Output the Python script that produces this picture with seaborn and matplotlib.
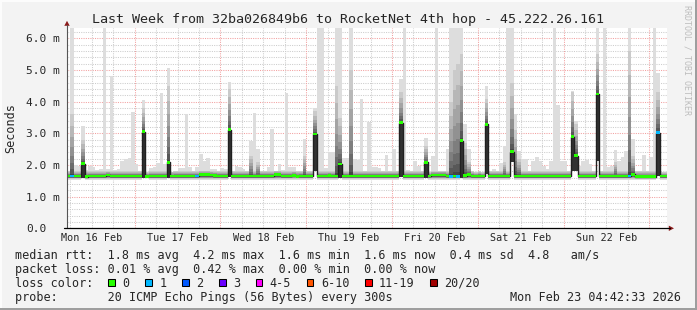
import numpy as np
import pandas as pd
import matplotlib
matplotlib.use("Agg")
import matplotlib.pyplot as plt
import matplotlib.transforms as mtransforms
from matplotlib.patches import Rectangle, Polygon
from matplotlib.lines import Line2D
import seaborn as sns

# ---------------- data ----------------
# hourly bins; hour index = hours since Mon 16 Feb 00:00
first_bin = 5
x_start, x_end = 5.06, 173.06

day_labels = ["Mon 16 Feb", "Tue 17 Feb", "Wed 18 Feb", "Thu 19 Feb",
              "Fri 20 Feb", "Sat 21 Feb", "Sun 22 Feb"]
day_label_hours = [12, 36, 60, 84, 108, 132, 156]
y_ticks = [0, 1, 2, 3, 4, 5, 6]
y_tick_labels = ["0.0", "1.0 m", "2.0 m", "3.0 m", "4.0 m", "5.0 m", "6.0 m"]

# median rtt per hourly bin (ms)
median_ms = (
    [1.65, 1.65, 1.65, 1.65, 2.04, 1.63, 1.65, 1.65, 1.65, 1.65, 1.65, 1.68,
     1.65, 1.65, 1.65, 1.65, 1.65, 1.65, 1.65] +
    [1.65, 1.65, 3.05, 1.64, 1.65, 1.65, 1.65, 1.65, 1.65, 2.08, 1.65, 1.65,
     1.65, 1.65, 1.65, 1.65, 1.65, 1.65, 1.69, 1.69, 1.69, 1.68, 1.66, 1.65] +
    [1.65, 1.65, 3.12, 1.65, 1.65, 1.65, 1.65, 1.65, 1.65, 1.65, 1.65, 1.65,
     1.65, 1.65, 1.65, 1.69, 1.69, 1.65, 1.65, 1.65, 1.67, 1.64, 1.65, 1.65] +
    [1.65, 1.65, 2.98, 1.65, 1.65, 1.65, 1.66, 1.65, 1.65, 2.03, 1.65, 1.65,
     1.65, 1.65, 1.65, 1.65, 1.65, 1.65, 1.65, 1.65, 1.65, 1.65, 1.65, 1.65] +
    [1.65, 1.65, 3.34, 1.65, 1.65, 1.65, 1.65, 1.65, 1.65, 2.08, 1.65, 1.68,
     1.68, 1.68, 1.68, 1.65, 1.64, 1.65, 1.64, 2.77, 1.66, 1.69, 1.65, 1.65] +
    [1.65, 1.65, 3.29, 1.65, 1.65, 1.65, 1.65, 1.65, 1.65, 2.42, 1.65, 1.65,
     1.65, 1.65, 1.65, 1.65, 1.65, 1.65, 1.65, 1.65, 1.65, 1.65, 1.65, 1.65] +
    [1.65, 1.65, 2.90, 2.29, 1.65, 1.65, 1.65, 1.65, 1.65, 4.24, 1.65, 1.65,
     1.65, 1.65, 1.65, 1.65, 1.65, 1.65, 1.65, 1.70, 1.63, 1.63, 1.63, 1.63,
     1.63, 1.63, 3.02, 1.65, 1.65]
)

# highest ping per hourly bin (ms); values above the top are clipped
max_ms = (
    [1.82, 7.0, 2.00, 1.97, 3.24, 1.83, 1.97, 1.93, 1.85, 1.87, 7.0, 1.86,
     4.82, 1.85, 1.87, 2.14, 2.20, 2.22, 3.66] +
    [2.03, 1.82, 4.05, 1.78, 1.92, 1.94, 2.05, 4.27, 2.03, 5.06, 1.79, 1.82,
     1.89, 1.90, 3.61, 1.93, 1.82, 1.93, 2.35, 2.14, 2.22, 1.87, 1.86, 1.82] +
    [1.90, 1.88, 4.63, 1.82, 1.98, 1.93, 1.87, 1.82, 2.75, 3.63, 2.50, 1.82,
     1.82, 1.95, 3.14, 1.82, 2.03, 1.84, 4.27, 1.93, 1.93, 1.82, 1.82, 2.82] +
    [1.82, 1.82, 3.80, 7.0, 7.0, 1.90, 2.42, 2.40, 7.0, 7.0, 2.22, 2.22,
     7.0, 2.20, 2.17, 4.08, 1.82, 3.35, 1.93, 1.93, 1.90, 1.82, 2.32, 1.82] +
    [2.50, 1.82, 4.72, 7.0, 1.85, 1.82, 2.14, 1.98, 1.82, 2.85, 1.77, 2.30,
     7.0, 1.82, 1.82, 2.50, 7.0, 7.0, 7.0, 7.0, 3.30, 2.50, 1.82, 1.77] +
    [1.82, 1.77, 4.50, 1.82, 1.87, 1.82, 2.05, 2.61, 7.0, 7.0, 3.60, 2.45,
     2.18, 2.18, 1.82, 2.14, 2.24, 2.14, 1.98, 1.87, 2.14, 7.0, 3.90, 2.14] +
    [2.14, 1.82, 4.35, 3.40, 1.98, 2.14, 2.16, 2.03, 1.82, 7.0, 1.82, 7.0,
     1.93, 1.98, 2.47, 2.14, 2.26, 2.45, 7.0, 2.82, 1.82, 1.82, 2.32, 1.82,
     2.24, 7.0, 4.90, 1.77, 1.77]
)

# upper end of the dense (dark) smoke where it differs from the baseline
dark_bins = [6, 9, 26, 33, 50, 56, 58, 71, 74, 80, 81, 84, 98, 105, 112, 113,
             114, 115, 116, 117, 122, 127, 129, 130, 131, 146, 147, 153, 158,
             162, 163, 170]
dark_tops = [3.6, 2.8, 3.8, 4.5, 4.4, 2.3, 2.1, 2.3, 3.7, 4.5, 3.5, 5.0, 4.3,
             2.6, 4.0, 5.0, 5.2, 5.5, 2.7, 2.1, 4.1, 2.1, 4.6, 3.1, 2.2, 4.3,
             3.3, 5.5, 2.1, 5.6, 2.3, 4.3]

# lowest ping where it differs from the baseline
low_bins = [9, 26, 27, 33, 50, 74, 81, 98, 105, 115, 122, 129, 146, 147, 153, 170]
low_vals = [1.60, 1.60, 1.63, 1.60, 1.63, 1.82, 1.60, 1.63, 1.60, 1.60, 1.72,
            2.08, 1.82, 1.82, 2.12, 1.66]

base_min = 1.52
base_inner = 1.57
base_dark = 1.82

# packet loss (pings lost of 20) where non-zero
loss_bins = [6, 41, 112, 114, 162, 170]
loss_counts = [1, 1, 1, 1, 1, 1]

loss_labels = ["0", "1", "2", "3", "4-5", "6-10", "11-19", "20/20"]
loss_colors = ["#26ff00", "#00b8ff", "#0059ff", "#6a00ff", "#ff00fc",
               "#ff5500", "#ff0000", "#a10000"]

title = "Last Week from 32ba026849b6 to RocketNet 4th hop - 45.222.26.161"
stats_rtt = "median rtt:  1.8 ms avg  4.2 ms max  1.6 ms min  1.6 ms now  0.4 ms sd  4.8   am/s"
stats_loss = "packet loss: 0.01 % avg  0.42 % max  0.00 % min  0.00 % now"
probe_text = "probe:       20 ICMP Echo Pings (56 Bytes) every 300s"
stamp_text = "Mon Feb 23 04:42:33 2026"

# ---------------- derived per-bin arrays ----------------
med = np.array(median_ms, dtype=float)
hi = np.array(max_ms, dtype=float)
n = len(med)
edges = np.arange(first_bin, first_bin + n + 1)
lo = np.full(n, base_min)
for b, v in zip(low_bins, low_vals):
    lo[b - first_bin] = v
dk = np.full(n, base_dark)
for b, v in zip(dark_bins, dark_tops):
    dk[b - first_bin] = v
dk = np.minimum(dk, hi)
lo_in = np.minimum(np.maximum(lo, base_inner), med)
tall_below = (med - lo_in) > 0.2
loss = np.zeros(n, dtype=int)
for b, c in zip(loss_bins, loss_counts):
    loss[b - first_bin] = c


def loss_color(c):
    if c == 0:
        return loss_colors[0]
    if c <= 3:
        return loss_colors[c]
    if c <= 5:
        return loss_colors[4]
    if c <= 10:
        return loss_colors[5]
    if c <= 19:
        return loss_colors[6]
    return loss_colors[7]


def st(a):
    return np.append(a, a[-1])


# ---------------- figure ----------------
sns.set_style("white")
plt.rcParams['font.family'] = ['DejaVu Sans Mono', 'DejaVu Sans']
plt.rcParams['lines.scale_dashes'] = False

W, H = 697, 310
BG = "#f3f3f3"
fig = plt.figure(figsize=(W / 100, H / 100), dpi=100, facecolor=BG)
PX = mtransforms.Affine2D().scale(1.0 / W, -1.0 / H).translate(0, 1) + fig.transFigure

ax_l, ax_r, ax_t, ax_b = 67.0, 667.4, 28.0, 228.3
ax = fig.add_axes([ax_l / W, 1 - ax_b / H, (ax_r - ax_l) / W, (ax_b - ax_t) / H])
ax.set_facecolor("white")
ax.set_xlim(x_start, x_end)
ax.set_ylim(0, (ax_b - ax_t) / 31.65)
for s in ax.spines.values():
    s.set_visible(False)

# grid (behind the data)
dots = (0, (0.75, 0.9))
for k in range(1, 32):
    yv = k * 0.2
    if yv > ax.get_ylim()[1]:
        break
    major = abs(yv - round(yv)) < 1e-6
    ax.axhline(yv, color="#f2a0a0" if major else "#cccccc", lw=0.75, ls=dots, zorder=0.5)
for hv in range(6, int(x_end) + 1, 6):
    if hv <= x_start:
        continue
    major = hv % 24 == 0
    ax.axvline(hv, color="#f2a0a0" if major else "#cccccc", lw=0.75, ls=dots,
               zorder=0.6 if major else 0.5)

# smoke: outermost band light, inner bands darker towards the median
ax.fill_between(edges, st(lo), st(hi), step="post", color="#dddddd", lw=0, zorder=1)
for i in range(2, 11):
    g = int(190 / 10 * (10 - i) + 50)
    frac = (10 - i) / 8.0
    top = med + (dk - med) * frac ** 1.6
    bot = np.where(tall_below, lo_in, med - (med - lo_in) * frac ** 0.7)
    col = "#%02x%02x%02x" % (g, g, g)
    ax.fill_between(edges, st(bot), st(top), step="post", color=col, lw=0,
                    zorder=1 + i * 0.05)

# median line
df = pd.DataFrame({"hour": edges, "median": st(med)})
sns.lineplot(data=df, x="hour", y="median", ax=ax, drawstyle="steps-post",
             color="#202020", linewidth=1.0, estimator=None, zorder=4)

# loss-coloured median bars
half = ax.get_ylim()[1] / 150.0
ax.bar(edges[:-1], 2 * half, bottom=med - half, width=1.0, align="edge",
       color=[loss_color(c) for c in loss], lw=0, antialiased=False, zorder=5)

ax.set_xlabel("")
ax.set_ylabel("")
ax.set_xticks(day_label_hours, day_labels, fontsize=7.3, va="baseline")
ax.tick_params(axis="x", length=0, pad=(241.0 - ax_b) * 0.72)
ax.set_yticks(y_ticks, y_tick_labels, fontsize=8.0, ha="left", va="center_baseline")
ax.tick_params(axis="y", length=0, pad=(ax_l - 25.8) * 0.72)

# axes lines and arrows
fig.add_artist(Line2D([ax_l, ax_l], [ax_b, 25.0], color="#555555", lw=0.8, transform=PX))
fig.add_artist(Line2D([63.5, 669.5], [ax_b, ax_b], color="black", lw=0.9, transform=PX))
arrow_c = "#8b1a1a"
fig.add_artist(Polygon([(64.3, 25.8), (69.7, 25.8), (67.0, 20.8)], closed=True,
                       color=arrow_c, lw=0, transform=PX))
fig.add_artist(Polygon([(668.8, 225.6), (668.8, 231.0), (674.0, ax_b)], closed=True,
                       color=arrow_c, lw=0, transform=PX))

# frame
fig.add_artist(Rectangle((0, 0), W, 1.5, color="#fcfcfc", lw=0, transform=PX))
fig.add_artist(Rectangle((0, 0), 1.5, H, color="#fcfcfc", lw=0, transform=PX))
fig.add_artist(Rectangle((W - 2, 0), 2, H, color="#9e9e9e", lw=0, transform=PX))
fig.add_artist(Rectangle((0, H - 2), W, 2, color="#9e9e9e", lw=0, transform=PX))

# texts
fig.text(348.5, 19.3, title, ha="center", va="center", fontsize=9.6, transform=PX)
fig.text(10.8, 128.0, "Seconds", rotation=90, ha="center", va="center",
         fontsize=8.5, transform=PX)
fig.text(686.5, 60.0, "RRDTOOL / TOBI OETIKER", rotation=270, ha="center",
         va="center", fontsize=6.0, color="#bdbdbd", transform=PX)

LX = 15.3
ADV = 7.1
fs_leg = 8.5
fig.text(LX, 258.6, stats_rtt, ha="left", va="baseline", fontsize=fs_leg, transform=PX)
fig.text(LX, 272.6, stats_loss, ha="left", va="baseline", fontsize=fs_leg, transform=PX)
fig.text(LX, 286.6, "loss color:", ha="left", va="baseline", fontsize=fs_leg, transform=PX)
fig.text(LX, 300.6, probe_text, ha="left", va="baseline", fontsize=fs_leg, transform=PX)
fig.text(681.5, 300.6, stamp_text, ha="right", va="baseline", fontsize=fs_leg, transform=PX)

bx = 108.4
for lab, col in zip(loss_labels, loss_colors):
    fig.add_artist(Rectangle((bx, 278.6), 6.8, 7.0, facecolor=col, edgecolor="black",
                             lw=0.75, transform=PX))
    fig.text(bx + 14.2, 286.6, lab, ha="left", va="baseline", fontsize=fs_leg, transform=PX)
    bx += 15.0 + len(lab) * ADV + 14.7

fig.savefig("out.png", dpi=100, facecolor=BG)
